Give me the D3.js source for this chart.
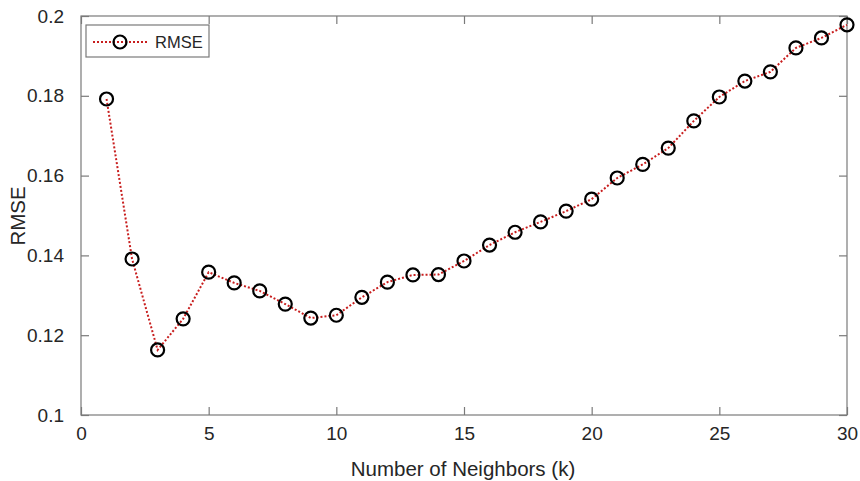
<!DOCTYPE html>
<html><head><meta charset="utf-8">
<script src="https://cdn.jsdelivr.net/npm/d3@7"></script>
<style>body{margin:0;background:#fff}svg{display:block}text{font-family:"Liberation Sans",Arial,sans-serif;fill:#262626}</style>
</head><body><svg id="c" width="860" height="481"></svg>
<script>
const kValues = [1,2,3,4,5,6,7,8,9,10,11,12,13,14,15,16,17,18,19,20,21,22,23,24,25,26,27,28,29,30];
const rmseValues = [0.1792,0.1391,0.1163,0.1241,0.1358,0.1331,0.1311,0.1278,0.1243,0.1250,0.1295,0.1333,0.1351,0.1352,0.1386,0.1426,0.1458,0.1484,0.1511,0.1541,0.1594,0.1628,0.1669,0.1737,0.1797,0.1837,0.1860,0.1920,0.1945,0.1978];
const xTicks = [0,5,10,15,20,25,30];
const yTicks = [0.1,0.12,0.14,0.16,0.18,0.2];
const seriesName = "RMSE";
const xLabel = "Number of Neighbors (k)";
const yLabel = "RMSE";

const L=81,R=847,T=16,B=415;
const svg=d3.select("#c");
const x=d3.scaleLinear().domain([0,30]).range([L,R]);
const y=d3.scaleLinear().domain([0.1,0.2]).range([B,T]);
const axisColor="#7a7a7a";
const tl=8;

const g=svg.append("g");
g.append("rect").attr("x",L).attr("y",T).attr("width",R-L).attr("height",B-T)
 .attr("fill","none").attr("stroke",axisColor).attr("stroke-width",1.2);

const xb=svg.append("g").attr("transform",`translate(0,${B})`)
 .call(d3.axisBottom(x).tickValues(xTicks).tickSize(-tl).tickPadding(tl+17).tickFormat(d3.format("d")));
const xt=svg.append("g").attr("transform",`translate(0,${T})`)
 .call(d3.axisTop(x).tickValues(xTicks).tickSize(-tl).tickFormat(""));
const yl=svg.append("g").attr("transform",`translate(${L},0)`)
 .call(d3.axisLeft(y).tickValues(yTicks).tickSize(-tl).tickPadding(tl+9).tickFormat(d=>d3.format("")(+d.toFixed(2))));
const yr=svg.append("g").attr("transform",`translate(${R},0)`)
 .call(d3.axisRight(y).tickValues(yTicks).tickSize(-tl).tickFormat(""));
[xb,xt,yl,yr].forEach(a=>{
  a.select(".domain").remove();
  a.selectAll("line").attr("stroke",axisColor).attr("stroke-width",1.2);
  a.selectAll("text").attr("font-size",19).attr("fill","#262626").attr("font-family","Liberation Sans, Arial, sans-serif");
});
xb.selectAll("text").attr("dy","0");

const pts=kValues.map((k,i)=>[k,rmseValues[i]]);
svg.append("path").datum(pts)
 .attr("d",d3.line().x(d=>x(d[0])).y(d=>y(d[1])))
 .attr("fill","none").attr("stroke","#c81e1e").attr("stroke-width",2).attr("stroke-dasharray","2,2");
svg.selectAll("circle.m").data(pts).enter().append("circle").attr("class","m")
 .attr("cx",d=>x(d[0])).attr("cy",d=>y(d[1])).attr("r",6.5)
 .attr("fill","none").attr("stroke","#000").attr("stroke-width",2.2);

svg.append("text").attr("x",(L+R)/2-1).attr("y",476).attr("text-anchor","middle")
 .attr("font-size",20.5).text(xLabel);
svg.append("text").attr("transform",`translate(25,216) rotate(-90)`).attr("text-anchor","middle")
 .attr("font-size",20.5).text(yLabel);

const lg=svg.append("g");
lg.append("rect").attr("x",86).attr("y",25).attr("width",123).attr("height",32)
 .attr("fill","#fff").attr("stroke",axisColor).attr("stroke-width",1.2);
lg.append("line").attr("x1",93).attr("x2",148).attr("y1",42).attr("y2",42)
 .attr("stroke","#c81e1e").attr("stroke-width",2).attr("stroke-dasharray","2,2");
lg.append("circle").attr("cx",120).attr("cy",42).attr("r",6.5).attr("fill","none").attr("stroke","#000").attr("stroke-width",2.2);
lg.append("text").attr("x",155).attr("y",48).attr("font-size",16.5).text(seriesName);
</script></body></html>
